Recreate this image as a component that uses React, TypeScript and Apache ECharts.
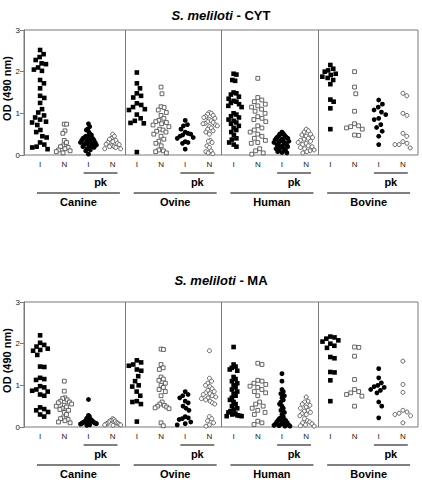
import React, { useEffect, useRef } from "react";
import * as echarts from "echarts";

// ---------- data ----------
const columnLabels = ["I", "N", "I", "N", "I", "N", "I", "N", "I", "N", "I", "N", "I", "N", "I", "N"];
const groups = ["Canine", "Ovine", "Human", "Bovine"];
const subLabel = "pk";
const panelTitles = ["S. meliloti", "S. meliloti"];
const panelAssays = ["CYT", "MA"];
const yTicks = [0, 1, 2, 3];
const yName = "OD (490 nm)";

// S. meliloti - CYT
const cytCanineI = [2.52, 2.42, 2.35, 2.28, 2.2, 2.18, 2.1, 2.05, 2.02, 1.8, 1.72, 1.6, 1.42, 1.37, 1.25, 1.1, 1.02, 0.95, 0.9, 0.85, 0.8, 0.78, 0.72, 0.6, 0.55, 0.45, 0.42, 0.3, 0.25, 0.2, 0.18, 0.14];
const cytCanineN = [0.74, 0.74, 0.58, 0.52, 0.35, 0.3, 0.22, 0.2, 0.18, 0.15, 0.12, 0.1, 0.08, 0.05];
const cytCaninePkI = [0.75, 0.68, 0.62, 0.6, 0.55, 0.5, 0.48, 0.45, 0.45, 0.42, 0.4, 0.4, 0.38, 0.36, 0.35, 0.34, 0.32, 0.3, 0.3, 0.28, 0.27, 0.26, 0.25, 0.24, 0.22, 0.2, 0.2, 0.18, 0.15, 0.12, 0.1, 0.02];
const cytCaninePkN = [0.5, 0.45, 0.4, 0.38, 0.35, 0.32, 0.3, 0.28, 0.26, 0.25, 0.22, 0.2, 0.2, 0.18, 0.15, 0.15];
const cytOvineI = [1.98, 1.72, 1.6, 1.48, 1.42, 1.38, 1.24, 1.2, 1.15, 1.1, 1.08, 0.97, 0.88, 0.82, 0.77, 0.76, 0.07];
const cytOvineN = [1.63, 1.47, 1.16, 1.14, 1.08, 1.02, 0.95, 0.88, 0.83, 0.8, 0.78, 0.75, 0.72, 0.68, 0.62, 0.6, 0.57, 0.55, 0.5, 0.45, 0.38, 0.33, 0.28, 0.22, 0.12, 0.1, 0.08, 0.05];
const cytOvinePkI = [0.83, 0.73, 0.7, 0.62, 0.55, 0.52, 0.5, 0.48, 0.45, 0.42, 0.4, 0.32, 0.3, 0.28, 0.14];
const cytOvinePkN = [1.02, 1.0, 0.98, 0.95, 0.92, 0.9, 0.88, 0.85, 0.82, 0.8, 0.78, 0.76, 0.75, 0.72, 0.7, 0.68, 0.65, 0.62, 0.58, 0.55, 0.5, 0.35, 0.33, 0.3, 0.22, 0.18, 0.1, 0.08, 0.05, 0.03];
const cytHumanI = [1.95, 1.93, 1.8, 1.78, 1.5, 1.48, 1.45, 1.4, 1.35, 1.3, 1.28, 1.25, 1.22, 1.18, 1.15, 1.0, 0.97, 0.93, 0.9, 0.85, 0.82, 0.78, 0.75, 0.7, 0.65, 0.6, 0.55, 0.48, 0.4, 0.37, 0.3, 0.25, 0.2];
const cytHumanN = [1.84, 1.38, 1.32, 1.28, 1.22, 1.18, 1.15, 1.1, 1.05, 1.0, 0.92, 0.88, 0.85, 0.8, 0.7, 0.65, 0.6, 0.55, 0.5, 0.45, 0.4, 0.35, 0.3, 0.28, 0.15, 0.1, 0.05, 0.02];
const cytHumanPkI = [0.55, 0.52, 0.5, 0.5, 0.48, 0.45, 0.45, 0.43, 0.42, 0.4, 0.4, 0.38, 0.36, 0.35, 0.34, 0.33, 0.32, 0.3, 0.3, 0.28, 0.27, 0.25, 0.24, 0.22, 0.2, 0.2, 0.18, 0.16, 0.15, 0.13, 0.12, 0.1, 0.08, 0.06, 0.05];
const cytHumanPkN = [0.62, 0.58, 0.55, 0.5, 0.48, 0.45, 0.42, 0.4, 0.38, 0.35, 0.33, 0.3, 0.28, 0.25, 0.22, 0.2, 0.18, 0.15, 0.12, 0.1, 0.08, 0.05];
const cytBovineI = [2.16, 2.07, 2.03, 2.0, 1.95, 1.92, 1.88, 1.85, 1.8, 1.7, 1.33, 1.28, 1.12, 0.62];
const cytBovineN = [2.0, 1.63, 1.47, 1.05, 0.75, 0.7, 0.68, 0.65, 0.62, 0.48, 0.47];
const cytBovinePkI = [1.32, 1.22, 1.15, 1.08, 1.03, 0.97, 0.88, 0.85, 0.73, 0.66, 0.57, 0.45, 0.25];
const cytBovinePkN = [1.48, 1.42, 1.0, 0.95, 0.52, 0.45, 0.32, 0.28, 0.25, 0.25, 0.17];

// S. meliloti - MA
const maCanineI = [2.2, 2.02, 1.97, 1.93, 1.88, 1.85, 1.83, 1.73, 1.45, 1.44, 1.18, 1.15, 1.13, 0.98, 0.95, 0.9, 0.87, 0.85, 0.78, 0.75, 0.47, 0.43, 0.4, 0.36, 0.3, 0.25];
const maCanineN = [1.1, 0.86, 0.7, 0.68, 0.65, 0.62, 0.6, 0.58, 0.55, 0.52, 0.5, 0.48, 0.45, 0.42, 0.4, 0.35, 0.3, 0.22, 0.2, 0.18, 0.15, 0.12, 0.1];
const maCaninePkI = [0.66, 0.28, 0.25, 0.22, 0.2, 0.18, 0.17, 0.15, 0.14, 0.13, 0.12, 0.12, 0.11, 0.1, 0.1, 0.09, 0.08, 0.08, 0.07, 0.06, 0.05, 0.04];
const maCaninePkN = [0.2, 0.18, 0.16, 0.15, 0.14, 0.12, 0.1, 0.09, 0.08, 0.07, 0.06, 0.05, 0.05, 0.04];
const maOvineI = [1.6, 1.55, 1.5, 1.47, 1.38, 1.35, 1.22, 1.1, 1.0, 0.97, 0.85, 0.75, 0.62, 0.6, 0.55, 0.13];
const maOvineN = [1.87, 1.86, 1.5, 1.42, 1.38, 1.2, 1.15, 1.12, 1.05, 1.0, 0.95, 0.9, 0.85, 0.75, 0.6, 0.55, 0.52, 0.5, 0.48, 0.46, 0.44, 0.1, 0.03];
const maOvinePkI = [0.85, 0.78, 0.75, 0.7, 0.62, 0.58, 0.5, 0.45, 0.4, 0.25, 0.22, 0.2, 0.18, 0.12, 0.08, 0.05];
const maOvinePkN = [1.83, 1.17, 1.1, 1.05, 1.0, 0.97, 0.92, 0.88, 0.85, 0.82, 0.8, 0.78, 0.75, 0.72, 0.7, 0.68, 0.65, 0.62, 0.58, 0.55, 0.25, 0.2, 0.15, 0.1, 0.05, 0.02];
const maHumanI = [1.92, 1.5, 1.45, 1.42, 1.38, 1.35, 1.2, 1.15, 1.1, 1.05, 1.0, 0.95, 0.9, 0.85, 0.8, 0.75, 0.7, 0.65, 0.6, 0.55, 0.5, 0.45, 0.42, 0.38, 0.35, 0.32, 0.3, 0.28, 0.27, 0.26, 0.26];
const maHumanN = [1.53, 1.5, 1.12, 1.1, 1.05, 1.02, 0.98, 0.95, 0.9, 0.85, 0.82, 0.75, 0.6, 0.55, 0.5, 0.45, 0.4, 0.35, 0.3, 0.14, 0.1, 0.06];
const maHumanPkI = [1.28, 1.1, 0.9, 0.85, 0.8, 0.75, 0.7, 0.65, 0.6, 0.55, 0.5, 0.45, 0.4, 0.35, 0.3, 0.25, 0.22, 0.2, 0.18, 0.16, 0.15, 0.13, 0.12, 0.1, 0.08, 0.07, 0.06, 0.05, 0.04, 0.03, 0.02, 0.02];
const maHumanPkN = [0.72, 0.62, 0.6, 0.55, 0.52, 0.48, 0.45, 0.4, 0.38, 0.35, 0.32, 0.3, 0.27, 0.2, 0.15, 0.12, 0.1, 0.08, 0.05, 0.03, 0.02];
const maBovineI = [2.17, 2.15, 2.12, 2.08, 2.05, 2.0, 1.95, 1.9, 1.68, 1.65, 1.32, 1.31, 1.12, 0.62];
const maBovineN = [1.92, 1.91, 1.7, 1.14, 0.9, 0.85, 0.82, 0.78, 0.74, 0.5];
const maBovinePkI = [1.4, 1.18, 1.06, 1.0, 0.97, 0.95, 0.9, 0.88, 0.82, 0.6, 0.5, 0.22];
const maBovinePkN = [1.58, 1.02, 0.83, 0.4, 0.36, 0.33, 0.3, 0.27, 0.1];

const cytColumns = [
  cytCanineI, cytCanineN, cytCaninePkI, cytCaninePkN,
  cytOvineI, cytOvineN, cytOvinePkI, cytOvinePkN,
  cytHumanI, cytHumanN, cytHumanPkI, cytHumanPkN,
  cytBovineI, cytBovineN, cytBovinePkI, cytBovinePkN,
];
const maColumns = [
  maCanineI, maCanineN, maCaninePkI, maCaninePkN,
  maOvineI, maOvineN, maOvinePkI, maOvinePkN,
  maHumanI, maHumanN, maHumanPkI, maHumanPkN,
  maBovineI, maBovineN, maBovinePkI, maBovinePkN,
];
const panels = [cytColumns, maColumns];

// ---------- layout / style ----------
const FONT = "'Liberation Sans', Arial, sans-serif";
const BOX_LEFT = 24;
const BOX_WIDTH = 394;
const COL_LEFT = 28;
const COL_WIDTH = 387;
const PLOT_H = 125;
const PANEL_TOPS = [30, 302];
const TITLE_Y = [15, 280];
const YNAME_X = 7;
const AXIS_GRAY = "#7a7a7a";
const OPEN_GRAY = "#555555";
const SWARM_RX = 4.6; // horizontal spacing between neighbours (px)
const SWARM_RY = 7; // vertical distance within which points are set side by side (px)
const SWARM_MAX = 8; // max half-width of a column (px)

const markerStyles = [
  { symbol: "rect", size: 4.6, color: "#000", border: "#000", bw: 0 },
  { symbol: "rect", size: 3.8, color: "#fff", border: OPEN_GRAY, bw: 0.9 },
  { symbol: "circle", size: 4.8, color: "#000", border: "#000", bw: 0 },
  { symbol: "circle", size: 4, color: "#fff", border: OPEN_GRAY, bw: 0.9 },
];

// beeswarm horizontal offsets (in column units) with elliptical collision
function swarmOffsets(vals: number[], pxPerVal: number, pxPerCol: number): number[] {
  const order = vals.map((_, i) => i).sort((a, b) => vals[b] - vals[a]);
  const placed: { x: number; y: number }[] = [];
  const px = new Array(vals.length).fill(0);
  for (const i of order) {
    const y = (vals[i] * pxPerVal) / SWARM_RY;
    const near = placed.filter((p) => Math.abs(p.y - y) < 1);
    const cands = [0];
    for (const p of near) {
      const dx = Math.sqrt(1 - (p.y - y) * (p.y - y));
      cands.push(p.x + dx, p.x - dx);
    }
    cands.sort((a, b) => Math.abs(a) - Math.abs(b));
    let x = 0;
    for (const c of cands) {
      if (near.every((p) => (p.x - c) ** 2 + (p.y - y) ** 2 >= 1 - 1e-6)) {
        x = c;
        break;
      }
    }
    placed.push({ x, y });
    px[i] = x * SWARM_RX;
  }
  const maxAbs = Math.max(...px.map((v) => Math.abs(v)), 1e-9);
  const k = maxAbs > SWARM_MAX ? SWARM_MAX / maxAbs : 1;
  return px.map((v) => (v * k) / pxPerCol);
}

function buildOption() {
  const grid: any[] = [];
  const xAxis: any[] = [];
  const yAxis: any[] = [];
  const series: any[] = [];
  const pxPerVal = PLOT_H / 3;
  const pxPerCol = COL_WIDTH / 16;

  panels.forEach((cols, p) => {
    const top = PANEL_TOPS[p];
    const gA = grid.length;
    grid.push({ left: BOX_LEFT, top, width: BOX_WIDTH, height: PLOT_H, show: true, borderColor: AXIS_GRAY, borderWidth: 1, backgroundColor: "transparent", outerBoundsMode: "none" });
    const gB = grid.length;
    grid.push({ left: COL_LEFT, top, width: COL_WIDTH, height: PLOT_H, outerBoundsMode: "none" });

    // grid A: box + y axis
    xAxis.push({ gridIndex: gA, type: "value", min: 0, max: 1, show: false });
    yAxis.push({
      gridIndex: gA, type: "value", min: yTicks[0], max: yTicks[yTicks.length - 1], interval: 1,
      axisLine: { show: true, lineStyle: { color: AXIS_GRAY } },
      axisTick: { show: true, length: 4, lineStyle: { color: AXIS_GRAY } },
      axisLabel: { fontFamily: FONT, fontSize: 8, color: "#222", margin: 4 },
      splitLine: { show: false },
    });
    // grid B: categories (labels) + value axis for points
    xAxis.push({
      gridIndex: gB, type: "category", data: columnLabels, position: "bottom",
      axisLine: { show: false }, axisTick: { show: false },
      axisLabel: { fontFamily: FONT, fontSize: 8, color: "#222", margin: 5, interval: 0 },
    });
    const valX = xAxis.length;
    xAxis.push({ gridIndex: gB, type: "value", min: -0.5, max: 15.5, show: false });
    const valY = yAxis.length;
    yAxis.push({ gridIndex: gB, type: "value", min: 0, max: 3, show: false });

    for (let s = 0; s < 4; s++) {
      const data: number[][] = [];
      cols.forEach((vals, ci) => {
        if (ci % 4 !== s) return;
        const offs = swarmOffsets(vals, pxPerVal, pxPerCol);
        vals.forEach((v, k) => data.push([ci + offs[k], v]));
      });
      const ms = markerStyles[s];
      series.push({
        type: "scatter", xAxisIndex: valX, yAxisIndex: valY,
        symbol: ms.symbol, symbolSize: ms.size, data, silent: true,
        itemStyle: { color: ms.color, borderColor: ms.border, borderWidth: ms.bw, opacity: 1 },
        z: 3,
        markLine: s === 0 ? {
          silent: true, symbol: "none", label: { show: false },
          lineStyle: { color: AXIS_GRAY, type: "solid", width: 1 },
          data: [{ xAxis: 3.5 }, { xAxis: 7.5 }, { xAxis: 11.5 }],
        } : undefined,
      });
    }
  });

  return {
    animation: false,
    backgroundColor: "#fff",
    grid, xAxis, yAxis, series,
  };
}

export default function App() {
  const ref = useRef<HTMLDivElement>(null);
  useEffect(() => {
    if (!ref.current) return;
    const chart = echarts.init(ref.current, undefined, { renderer: "svg" });
    chart.setOption(buildOption());

    // annotations computed via the library's scales
    const graphic: any[] = [];
    panels.forEach((_, p) => {
      const valX = p * 3 + 2; // value x axis in grid B
      const valY = p * 2 + 1;
      const boxX0 = chart.convertToPixel({ xAxisIndex: p * 3 }, 0) as number;
      const boxX1 = chart.convertToPixel({ xAxisIndex: p * 3 }, 1) as number;
      const bottom = chart.convertToPixel({ yAxisIndex: valY }, 0) as number;
      const topPx = chart.convertToPixel({ yAxisIndex: valY }, 3) as number;
      const px = (v: number) => chart.convertToPixel({ xAxisIndex: valX }, v) as number;
      graphic.push({
        type: "text", x: (boxX0 + boxX1) / 2, y: TITLE_Y[p],
        style: {
          text: `{i|${panelTitles[p]}}{b| - ${panelAssays[p]}}`,
          align: "center", verticalAlign: "middle",
          rich: {
            i: { fontFamily: FONT, fontSize: 13, fontWeight: "bold", fontStyle: "italic", fill: "#000" },
            b: { fontFamily: FONT, fontSize: 13, fontWeight: "bold", fill: "#000" },
          },
        },
      });
      graphic.push({
        type: "text", x: YNAME_X, y: (bottom + topPx) / 2 - 4, rotation: Math.PI / 2,
        style: { text: yName, align: "center", verticalAlign: "middle", font: `bold 11px ${FONT}`, fill: "#000" },
      });
      groups.forEach((g, gi) => {
        const c0 = gi * 4;
        const pkX0 = px(c0 + 2 - 0.2);
        const pkX1 = px(c0 + 3 + 0.2);
        graphic.push({ type: "line", shape: { x1: pkX0, y1: bottom + 18, x2: pkX1, y2: bottom + 18 }, style: { stroke: "#000", lineWidth: 1 } });
        graphic.push({ type: "text", x: (pkX0 + pkX1) / 2, y: bottom + 27, style: { text: subLabel, align: "center", verticalAlign: "middle", font: `bold 11px ${FONT}`, fill: "#000" } });
        const gX0 = px(c0 - 0.13);
        const gX1 = px(c0 + 3 + 0.3);
        graphic.push({ type: "line", shape: { x1: gX0, y1: bottom + 38, x2: gX1, y2: bottom + 38 }, style: { stroke: "#000", lineWidth: 1 } });
        graphic.push({ type: "text", x: (gX0 + gX1) / 2, y: bottom + 47, style: { text: g, align: "center", verticalAlign: "middle", font: `bold 11px ${FONT}`, fill: "#000" } });
      });
    });
    chart.setOption({ graphic });
    return () => chart.dispose();
  }, []);
  return <div ref={ref} style={{ position: "absolute", left: 0, top: 0, width: 422, height: 480 }} />;
}
